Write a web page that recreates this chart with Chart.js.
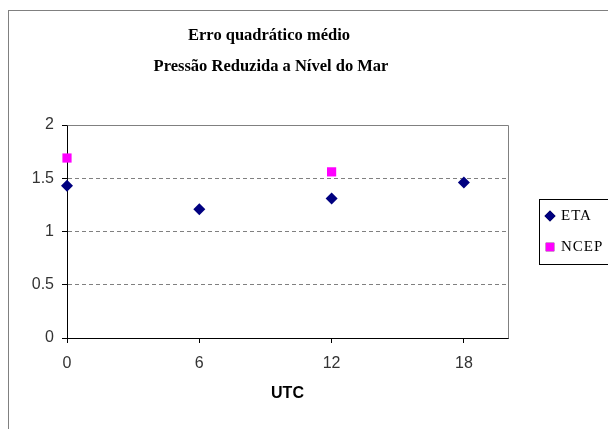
<!DOCTYPE html>
<html>
<head>
<meta charset="utf-8">
<script src="https://cdn.jsdelivr.net/npm/chart.js@4/dist/chart.umd.min.js"></script>
<style>
  body { margin: 0; background: #fff; }
  canvas { display: block; }
</style>
</head>
<body>
<canvas id="grafico" width="608" height="429"></canvas>
<script>
// dados
var titulo = ["Erro quadrático médio", "Pressão Reduzida a Nível do Mar"];
var horasEta = [0, 6, 12, 18];
var valoresEta = [1.43, 1.21, 1.31, 1.46];
var horasNcep = [0, 12];
var valoresNcep = [1.69, 1.56];
var ticksX = [0, 6, 12, 18];

function pontos(xs, ys) {
    return xs.map(function (x, i) { return { x: x, y: ys[i] }; });
}

var fonteEixo = 'Liberation Sans, Arial, sans-serif';

// moldura, titulo, borda da area e legenda
var moldura = {
    id: 'moldura',
    beforeDraw: function (chart) {
        var ctx = chart.ctx;
        ctx.save();
        ctx.fillStyle = '#fff';
        ctx.fillRect(0, 0, chart.width, chart.height);
        ctx.strokeStyle = '#808080';
        ctx.lineWidth = 1;
        ctx.strokeRect(8.5, 10.5, chart.width + 10, chart.height + 10);
        ctx.restore();
    },
    afterDraw: function (chart) {
        var ctx = chart.ctx;
        var a = chart.chartArea;
        ctx.save();
        // titulo
        ctx.fillStyle = '#000';
        ctx.font = 'bold 16.5px "Liberation Serif"';
        ctx.textAlign = 'center';
        ctx.textBaseline = 'middle';
        ctx.fillText(titulo[0], 269, 36);
        ctx.fillText(titulo[1], 271, 67);
        // borda superior e direita da area de plotagem
        ctx.strokeStyle = '#808080';
        ctx.lineWidth = 1;
        ctx.beginPath();
        ctx.moveTo(Math.round(a.left) + 0.5, Math.round(a.top) + 0.5);
        ctx.lineTo(Math.round(a.right) + 0.5, Math.round(a.top) + 0.5);
        ctx.lineTo(Math.round(a.right) + 0.5, Math.round(a.bottom) + 0.5);
        ctx.stroke();
        // legenda
        ctx.strokeStyle = '#000';
        ctx.strokeRect(539.5, 199.5, 80, 65);
        ctx.font = '15px "Liberation Serif"';
        ctx.letterSpacing = '1px';
        ctx.textAlign = 'left';
        chart.data.datasets.forEach(function (ds, i) {
            var y = 216 + i * 31;
            ctx.beginPath();
            Chart.helpers.drawPoint(ctx, {
                pointStyle: ds.pointStyle,
                radius: ds.pointStyle === 'rect' ? 6 : 5.5,
                rotation: 0
            }, 550, y);
            ctx.fillStyle = ds.backgroundColor;
            ctx.fill();
            ctx.fillStyle = '#000';
            ctx.fillText(ds.label, 561, y);
        });
        ctx.restore();
    }
};

new Chart(document.getElementById('grafico').getContext('2d'), {
    type: 'scatter',
    data: {
        datasets: [
            {
                label: 'ETA',
                data: pontos(horasEta, valoresEta),
                pointStyle: 'rectRot',
                pointRadius: 6,
                pointHoverRadius: 6,
                backgroundColor: '#000080',
                borderColor: '#000080',
                borderWidth: 0,
                clip: false
            },
            {
                label: 'NCEP',
                data: pontos(horasNcep, valoresNcep),
                pointStyle: 'rect',
                pointRadius: 6.5,
                pointHoverRadius: 6.5,
                backgroundColor: '#FF00FF',
                borderColor: '#FF00FF',
                borderWidth: 0,
                clip: false
            }
        ]
    },
    options: {
        responsive: false,
        animation: false,
        layout: { padding: { left: 0, top: 125, right: 100, bottom: 0 } },
        plugins: {
            legend: { display: false },
            title: { display: false },
            tooltip: { enabled: false }
        },
        scales: {
            x: {
                type: 'linear',
                min: 0,
                max: 20,
                afterBuildTicks: function (s) {
                    s.ticks = ticksX.map(function (v) { return { value: v }; });
                },
                afterFit: function (s) { s.height = 91; },
                grid: { drawOnChartArea: false, tickLength: 5, tickColor: '#000' },
                border: { color: '#000', width: 1 },
                ticks: {
                    color: '#333',
                    font: { family: fonteEixo, size: 16 },
                    padding: 11,
                    maxRotation: 0
                },
                title: {
                    display: true,
                    text: 'UTC',
                    color: '#000',
                    font: { family: fonteEixo, size: 16, weight: 'bold' },
                    padding: { top: 0, bottom: 26 }
                }
            },
            y: {
                min: 0,
                max: 2,
                afterFit: function (s) { s.width = 67; },
                ticks: {
                    stepSize: 0.5,
                    color: '#333',
                    font: { family: fonteEixo, size: 16 },
                    padding: 8,
                    callback: function (v) { return String(v); }
                },
                grid: {
                    color: function (c) {
                        return (c.tick && (c.tick.value === 0 || c.tick.value === 2)) ? 'rgba(0,0,0,0)' : '#808080';
                    },
                    tickColor: '#000',
                    tickLength: 5
                },
                border: { color: '#000', width: 1, dash: [4, 3] }
            }
        }
    },
    plugins: [moldura]
});
</script>
</body>
</html>
